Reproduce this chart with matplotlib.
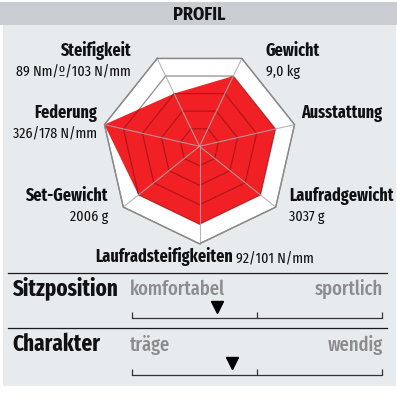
import numpy as np
import matplotlib
matplotlib.use('Agg')
import matplotlib.pyplot as plt
from matplotlib.patches import Rectangle

# radar data (score out of 5)
categories = ['Steifigkeit', 'Gewicht', 'Ausstattung', 'Laufradgewicht',
              'Laufradsteifigkeiten', 'Set-Gewicht', 'Federung']
measures = ['89 Nm/º/103 N/mm', '9,0 kg', '', '3037 g',
            '92/101 N/mm', '2006 g', '326/178 N/mm']
scores = [3, 4, 4, 4, 4, 4, 5]
rings = [1, 2, 3, 4, 5]

# sliders below the radar
slider_names = ['Sitzposition', 'Charakter']
slider_left = ['komfortabel', 'träge']
slider_right = ['sportlich', 'wendig']
slider_pos = [0.34, 0.40]

plt.rcParams['font.family'] = ['Fira Sans Extra Condensed', 'DejaVu Sans']

W, H = 397, 413
fig = plt.figure(figsize=(W / 100, H / 100), dpi=100)


def frac(x0, y0, x1, y1):
    # pixel box (top-down) -> figure fraction rect
    return [x0 / W, 1 - y1 / H, (x1 - x0) / W, (y1 - y0) / H]


bg = fig.add_axes([0, 0, 1, 1])
bg.set_xlim(0, W)
bg.set_ylim(H, 0)
bg.axis('off')
bg.add_patch(Rectangle((0, 1.5), W, 23, color='#c9cdd1', lw=0))
bg.add_patch(Rectangle((3, 24.5), 392.5, 361.5, color='#e8ebee', lw=0))
bg.text(199, 19.5, 'PROFIL', ha='center', va='baseline', fontsize=13,
        fontweight='bold', color='#111111',
        family=['Fira Sans Condensed', 'DejaVu Sans'])

# radar
cx, cy, R = 199.5, 146.3, 97.5
rmax = 5.2
Rax = R * rmax / 5
ax = fig.add_axes(frac(cx - Rax, cy - Rax, cx + Rax, cy + Rax), projection='polar')
ax.set_theta_offset(np.pi / 2 + np.pi / 7)
ax.set_theta_direction(-1)
ax.set_ylim(0, rmax)
ax.axis('off')

n = len(categories)
theta = np.arange(n) * 2 * np.pi / n
th_c = np.append(theta, theta[0])
sc_c = np.append(scores, scores[0])

ax.fill(th_c, [rings[-1]] * (n + 1), color='white', lw=0, zorder=1)
for r in rings:
    ax.plot(th_c, [r] * (n + 1), color='#8f8f8f', lw=0.9, zorder=2)
red = ax.fill(th_c, sc_c, color='#f02024', lw=0, zorder=3)[0]
for r in rings[:-1]:
    l, = ax.plot(th_c, [r] * (n + 1), color='#b3161a', lw=0.9, zorder=4)
    l.set_clip_path(red)
for t in theta:
    ax.plot([t, t], [0, rings[-1]], color='#aaaaaa', lw=0.8, alpha=0.85, zorder=5)
ax.plot(th_c, [rings[-1]] * (n + 1), color='#8a8a8a', lw=1.0, zorder=6, clip_on=False)

# label layout: x, name baseline, alignment
label_pos = [(131, 56, 'right'), (266, 56, 'left'), (301, 118, 'left'),
             (289, 201, 'left'), (95, 262, 'left'), (108, 201, 'right'),
             (97, 118, 'right')]
for name, meas, (x, y, ha) in zip(categories, measures, label_pos):
    t = bg.text(x, y, name, ha=ha, va='baseline', fontsize=12.5,
                fontweight='bold', color='#111111')
    if name == 'Laufradsteifigkeiten':
        bg.annotate(meas, xy=(1, 0), xycoords=t, xytext=(2, 0),
                    textcoords='offset points', ha='left', va='bottom',
                    fontsize=11, color='#111111')
    elif meas:
        bg.text(x, y + 20, meas, ha=ha, va='baseline', fontsize=11,
                color='#111111')

# sliders
sep_y = [272.7, 328.3]
name_y = [295, 351]
line_y = [318.3, 375]
for i in range(len(slider_names)):
    bg.plot([8, 387], [sep_y[i], sep_y[i]], color='#1a1a1a', lw=0.9)
    bg.text(12, name_y[i], slider_names[i], ha='left', va='baseline',
            fontsize=16.5, fontweight='bold', color='#111111')
    bg.text(130, name_y[i], slider_left[i], ha='left', va='baseline',
            fontsize=14.5, fontweight=500, color='#8c8c8c')
    bg.text(383, name_y[i], slider_right[i], ha='right', va='baseline',
            fontsize=14.5, fontweight=500, color='#8c8c8c')

    sax = fig.add_axes(frac(132.3, line_y[i] - 18, 381.7, line_y[i]))
    sax.set_xlim(0, 1)
    sax.set_ylim(0, 1)
    sax.patch.set_visible(False)
    for s in ['top', 'left', 'right']:
        sax.spines[s].set_visible(False)
    sax.spines['bottom'].set_color('#333333')
    sax.spines['bottom'].set_linewidth(0.9)
    sax.set_xticks([0, 0.5, 1])
    sax.set_yticks([])
    sax.tick_params(axis='x', direction='in', length=4.5, width=0.9,
                    color='#333333', labelbottom=False)
    sax.plot(slider_pos[i], 0.64, marker='v', ms=8.5, color='black',
             clip_on=False)

fig.savefig('out.png', dpi=100)
